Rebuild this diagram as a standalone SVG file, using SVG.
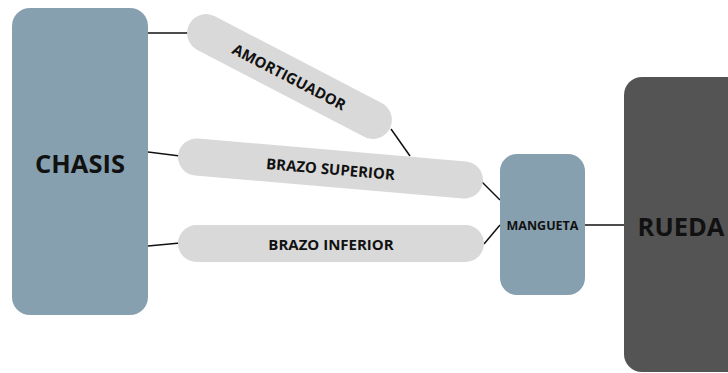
<svg xmlns="http://www.w3.org/2000/svg" width="728" height="373" viewBox="0 0 728 373">
  <style>
    .blue { fill: #87a0b0; }
    .pill { fill: #d9d9d9; }
    .dark { fill: #545454; }
    .lbl { font-family: "Open Sans", "Noto Sans", sans-serif; font-weight: 700; fill: #111; text-anchor: middle; dominant-baseline: central; }
    .big { font-size: 25.5px; }
    .mid { font-size: 15px; }
    .small { font-size: 12.5px; }
    .link { stroke: #111; stroke-width: 1.5; fill: none; }
  </style>
  <rect width="728" height="373" fill="#ffffff"/>

  <g id="connectors">
    <line class="link" x1="148" y1="33" x2="190" y2="33"/>
    <line class="link" x1="391" y1="129" x2="410" y2="156"/>
    <line class="link" x1="148" y1="152" x2="180" y2="156"/>
    <line class="link" x1="482" y1="182" x2="500" y2="200"/>
    <line class="link" x1="148" y1="246" x2="180" y2="243"/>
    <line class="link" x1="484" y1="244" x2="500" y2="225"/>
    <line class="link" x1="585" y1="225" x2="625" y2="225"/>
  </g>

  <g id="chasis">
    <rect class="blue" x="12" y="8" width="136" height="307" rx="18"/>
    <text class="lbl big" x="80" y="163">CHASIS</text>
  </g>

  <g id="amortiguador" transform="translate(289.5 76.5) rotate(27.5)">
    <rect class="pill" x="-113" y="-19" width="226" height="38" rx="19"/>
    <text class="lbl mid" x="0" y="0">AMORTIGUADOR</text>
  </g>

  <g id="brazo-superior" transform="translate(330.5 168.5) rotate(4.9)">
    <rect class="pill" x="-153" y="-18.5" width="306" height="37" rx="18.5"/>
    <text class="lbl mid" x="0" y="0">BRAZO SUPERIOR</text>
  </g>

  <g id="brazo-inferior">
    <rect class="pill" x="178" y="225" width="306" height="37" rx="18.5"/>
    <text class="lbl mid" x="331" y="243.5">BRAZO INFERIOR</text>
  </g>

  <g id="mangueta">
    <rect class="blue" x="500" y="154" width="85" height="141" rx="17"/>
    <text class="lbl small" x="542.5" y="225">MANGUETA</text>
  </g>

  <g id="rueda">
    <rect class="dark" x="624" y="77" width="120" height="295" rx="18"/>
    <text class="lbl big" x="681" y="226">RUEDA</text>
  </g>
</svg>
